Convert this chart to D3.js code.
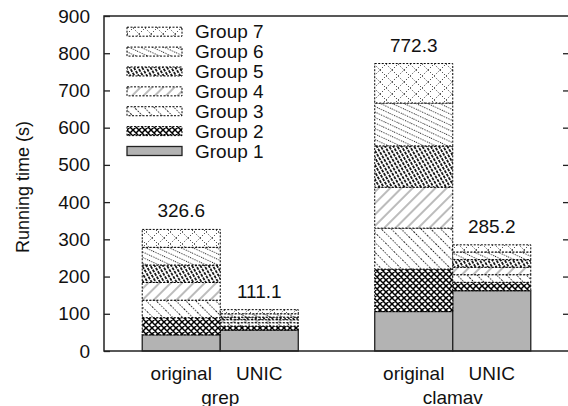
<!DOCTYPE html>
<html>
<head>
<meta charset="utf-8">
<script src="https://cdn.jsdelivr.net/npm/d3@7"></script>
<style>
  body { margin: 0; background: #fff; }
  text { font-family: "Liberation Sans", Arial, Helvetica, sans-serif; fill: #111; }
</style>
</head>
<body>
<svg id="chart"></svg>
<script>
const width = 568, height = 406;
const margin = { top: 16, right: -1, bottom: 55, left: 104 };
const plotWidth = width - margin.left - margin.right;
const plotHeight = height - margin.top - margin.bottom;

// Data
const programs = ["grep", "clamav"];
const variants = ["original", "UNIC"];
const seriesNames = ["Group 1", "Group 2", "Group 3", "Group 4", "Group 5", "Group 6", "Group 7"];
const grepOriginal = [43.5, 46, 47, 47.5, 47, 47.5, 48.1];
const grepUnic = [56, 11, 9, 8, 7, 9, 11.1];
const clamavOriginal = [106, 114, 110, 110, 111, 115, 106.3];
const clamavUnic = [162, 22.5, 20.5, 20, 20.5, 20.5, 19.2];
const yTicks = [0, 100, 200, 300, 400, 500, 600, 700, 800, 900];

const barValues = {
  grep: { original: grepOriginal, UNIC: grepUnic },
  clamav: { original: clamavOriginal, UNIC: clamavUnic }
};

// build rows for d3.stack
const rows = [];
programs.forEach(p => variants.forEach(v => {
  const row = { program: p, variant: v };
  seriesNames.forEach((s, i) => row[s] = barValues[p][v][i]);
  rows.push(row);
}));

const svg = d3.select("#chart")
  .attr("width", width)
  .attr("height", height);

// Fill patterns (gnuplot-ish)
const defs = svg.append("defs");

function linePattern(id, size, angle, stroke, sw, dash) {
  const p = defs.append("pattern")
    .attr("id", id)
    .attr("patternUnits", "userSpaceOnUse")
    .attr("width", size).attr("height", 12)
    .attr("patternTransform", `rotate(${angle})`);
  p.append("rect").attr("width", size).attr("height", 12).attr("fill", "#fff");
  p.append("line")
    .attr("x1", size / 2).attr("x2", size / 2)
    .attr("y1", 0).attr("y2", 12)
    .attr("stroke", stroke)
    .attr("stroke-width", sw)
    .attr("stroke-dasharray", dash || null);
}

// Group 2: dark crosshatch
const p2 = defs.append("pattern")
  .attr("id", "pat2").attr("patternUnits", "userSpaceOnUse")
  .attr("width", 6).attr("height", 6);
p2.append("rect").attr("width", 6).attr("height", 6).attr("fill", "#fff");
p2.append("path").attr("d", "M0,0L6,6M6,0L0,6M-1,5L1,7M5,-1L7,1M5,7L7,5M-1,1L1,-1")
  .attr("stroke", "#000").attr("stroke-width", 1.5).attr("fill", "none");
p2.append("circle").attr("cx", 3).attr("cy", 0).attr("r", 0.9).attr("fill", "#fff");
p2.append("circle").attr("cx", 3).attr("cy", 6).attr("r", 0.9).attr("fill", "#fff");

linePattern("pat3", 7, -45, "#111", 1, "1.2,1.6");
linePattern("pat4", 8, 45, "#555", 0.8, null);
linePattern("pat5", 3.6, -30, "#000", 1.6, "3,1");
linePattern("pat6", 5, -65, "#222", 1, "1.1,1.4");

// Group 7: sparse dotted diamond lattice
const p7 = defs.append("pattern")
  .attr("id", "pat7").attr("patternUnits", "userSpaceOnUse")
  .attr("width", 12).attr("height", 12);
p7.append("rect").attr("width", 12).attr("height", 12).attr("fill", "#fff");
p7.append("path").attr("d", "M0,6L6,0L12,6L6,12Z")
  .attr("stroke", "#111").attr("stroke-width", 1).attr("fill", "none")
  .attr("stroke-dasharray", "1,2");

const fills = ["#b3b3b3", "url(#pat2)", "url(#pat3)", "url(#pat4)", "url(#pat5)", "url(#pat6)", "url(#pat7)"];

const g = svg.append("g").attr("transform", `translate(${margin.left},${margin.top})`);

// Scales
const x0 = d3.scaleBand().domain(programs).range([0, plotWidth]);
const x1 = d3.scaleBand().domain(variants).range([0, x0.bandwidth()]).paddingInner(0).paddingOuter(0.49);
const y = d3.scaleLinear().domain([0, 900]).range([plotHeight, 0]);

const stacked = d3.stack().keys(seriesNames)(rows);

// Bars
g.selectAll(".series")
  .data(stacked)
  .enter()
  .append("g")
  .attr("class", "series")
  .attr("fill", (d, i) => fills[i])
  .selectAll("rect")
  .data((d, i) => d.map(seg => ({ seg, i })))
  .enter()
  .append("rect")
  .attr("x", d => x0(d.seg.data.program) + x1(d.seg.data.variant))
  .attr("width", x1.bandwidth())
  .attr("y", d => y(d.seg[1]))
  .attr("height", d => y(d.seg[0]) - y(d.seg[1]))
  .attr("stroke", d => d.i === 0 ? "#222" : "#000")
  .attr("stroke-width", d => d.i === 0 ? 1.3 : 1)
  .attr("stroke-dasharray", d => d.i === 0 ? null : "2,1.5");

// Total labels on top of bars
g.selectAll(".total")
  .data(rows)
  .enter()
  .append("text")
  .attr("class", "total")
  .attr("x", d => x0(d.program) + x1(d.variant) + x1.bandwidth() / 2)
  .attr("y", d => y(d3.sum(seriesNames, s => d[s])) - 12)
  .attr("text-anchor", "middle")
  .attr("font-size", "19px")
  .text(d => d3.sum(seriesNames, s => d[s]).toFixed(1));

// Frame + axes
g.append("rect")
  .attr("width", plotWidth).attr("height", plotHeight)
  .attr("fill", "none").attr("stroke", "#222").attr("stroke-width", 1.5);

const yAxis = g.append("g")
  .call(d3.axisLeft(y).tickValues(yTicks).tickSize(-6).tickPadding(14));
yAxis.select(".domain").remove();
yAxis.selectAll("line").attr("stroke", "#222").attr("stroke-width", 1.3);
yAxis.selectAll("text").attr("font-size", "19px").attr("fill", "#111")
  .attr("font-family", "'Liberation Sans', Arial, sans-serif");

const yAxisR = g.append("g")
  .attr("transform", `translate(${plotWidth},0)`)
  .call(d3.axisRight(y).tickValues(yTicks.slice(1, -1)).tickSize(-6).tickFormat(""));
yAxisR.select(".domain").remove();
yAxisR.selectAll("line").attr("stroke", "#222").attr("stroke-width", 1.3);

// X labels
g.selectAll(".variant-label")
  .data(rows)
  .enter()
  .append("text")
  .attr("x", d => x0(d.program) + x1(d.variant) + x1.bandwidth() / 2)
  .attr("y", plotHeight + 29)
  .attr("text-anchor", "middle")
  .attr("font-size", "19px")
  .text(d => d.variant);

g.selectAll(".program-label")
  .data(programs)
  .enter()
  .append("text")
  .attr("x", d => x0(d) + x0.bandwidth() / 2)
  .attr("y", plotHeight + 52.5)
  .attr("text-anchor", "middle")
  .attr("font-size", "19px")
  .text(d => d);

// Y axis title
svg.append("text")
  .attr("text-anchor", "middle")
  .attr("transform", `translate(29,187)rotate(-90)`)
  .attr("font-size", "18px")
  .text("Running time (s)");

// Legend (Group 7 at top)
const legend = g.append("g").attr("transform", "translate(23,0)");
const legendItems = seriesNames.map((s, i) => ({ s, i })).reverse();
const rowY = d3.scaleLinear().domain([0, 6]).range([15.7, 135]);

legend.selectAll("rect")
  .data(legendItems)
  .enter()
  .append("rect")
  .attr("x", 0)
  .attr("y", (d, k) => rowY(k) - 4.5)
  .attr("width", 55)
  .attr("height", 9)
  .attr("fill", d => fills[d.i])
  .attr("stroke", d => d.i === 0 ? "#222" : "#000")
  .attr("stroke-width", d => d.i === 0 ? 1.3 : 1)
  .attr("stroke-dasharray", d => d.i === 0 ? null : "2,1.5");

legend.selectAll("text")
  .data(legendItems)
  .enter()
  .append("text")
  .attr("x", 68)
  .attr("y", (d, k) => rowY(k))
  .attr("dy", "0.35em")
  .attr("font-size", "19px")
  .text(d => d.s);
</script>
</body>
</html>
